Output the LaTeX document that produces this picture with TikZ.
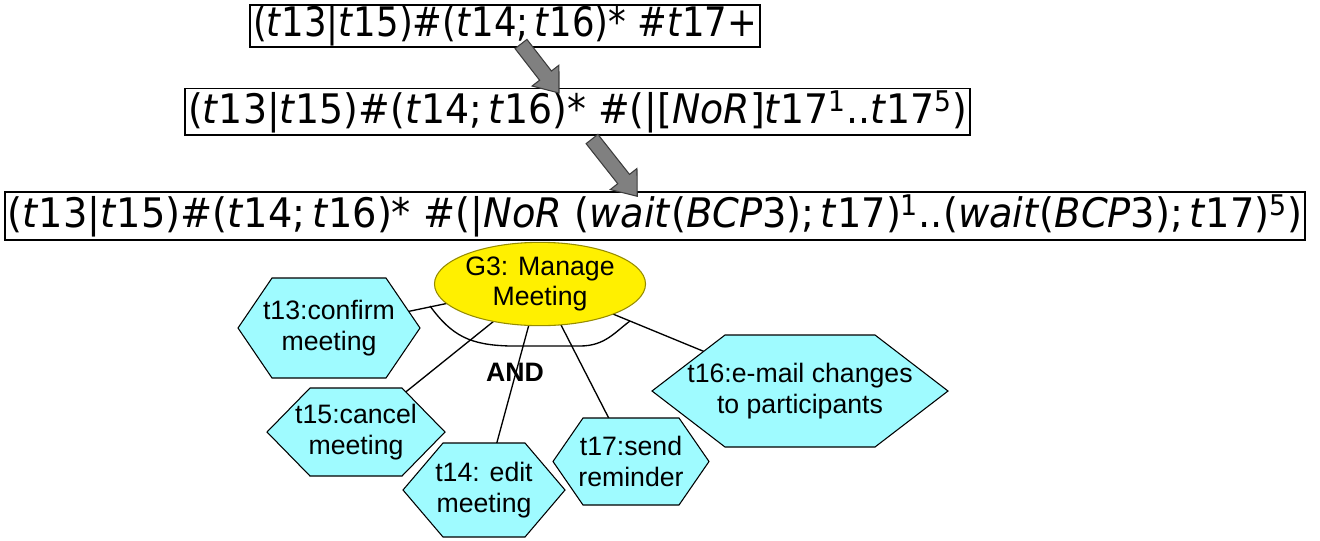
\documentclass[tikz,border=0pt]{standalone}
\usepackage{fontspec}
\usepackage{graphicx}
\usetikzlibrary{shapes.geometric}
\newfontfamily\hvfont{Liberation Sans}
\newfontfamily\djfont{DejaVu Sans}
\definecolor{taskcyan}{HTML}{9FFBFF}
\definecolor{goalyellow}{HTML}{FFF000}
\definecolor{goalrim}{HTML}{968C00}
\definecolor{arrowgray}{HTML}{808080}
\definecolor{arrowrim}{HTML}{3C3C3C}
\pgfdeclarelayer{edges}
\pgfdeclarelayer{shapes}
\pgfsetlayers{edges,shapes,main}

\newcommand\ti[1]{\textit{#1}}

% task hexagon: name, cx, cy, half width, half height, pointer depth, text
\newcommand\taskhex[7]{%
  \begin{pgfonlayer}{shapes}
    \draw[hexshape] ({#2-#4},#3) -- ({#2-#4+#6},{#3-#5}) -- ({#2+#4-#6},{#3-#5})
      -- ({#2+#4},#3) -- ({#2+#4-#6},{#3+#5}) -- ({#2-#4+#6},{#3+#5}) -- cycle;
  \end{pgfonlayer}
  \node[hextext] (#1) at (#2,#3) {#7};}

% grey block arrow: tail x, tail y, angle, length
\newcommand\blockarrow[4]{%
  \begin{scope}[shift={(#1,#2)}, rotate=#3]
    \draw[blockarrow] (0,-7.5) -- ({#4-22},-7.5) -- ({#4-22},-17) -- (#4,0)
      -- ({#4-22},17) -- ({#4-22},7.5) -- (0,7.5) -- cycle;
  \end{scope}}

\tikzset{
  formbox/.style={draw=black, line width=1pt, inner sep=0pt,
    font=\djfont\fontsize{30.5}{33}\selectfont},
  hexshape/.style={draw=black, line width=0.8pt, fill=taskcyan},
  hextext/.style={align=center, inner sep=0pt,
    font=\hvfont\fontsize{20}{23}\selectfont},
  goal/.style={ellipse, draw=goalrim, line width=0.8pt, fill=goalyellow,
    inner sep=0pt, align=center, font=\hvfont\fontsize{20}{23}\selectfont},
  link/.style={draw=black, line width=1pt},
  andlabel/.style={font=\hvfont\bfseries\fontsize{20}{23}\selectfont, inner sep=0pt},
  blockarrow/.style={draw=arrowrim, line width=0.8pt, fill=arrowgray, line join=miter},
}

\begin{document}
\begin{tikzpicture}[x=0.75pt, y=-0.75pt]
\useasboundingbox (0,0) rectangle (1320,540);

% formula boxes
\node[formbox, minimum width=382.5pt, minimum height=31.5pt] (f1) at (505,26)
  {\resizebox{378pt}{\height}{(\ti{t}13|\ti{t}15)\#(\ti{t}14;\,\ti{t}16)* \#\ti{t}17+}};
\node[formbox, minimum width=588.75pt, minimum height=35pt] (f2) at (577.5,111.5)
  {\resizebox{584pt}{\height}{(\ti{t}13|\ti{t}15)\#(\ti{t}14;\,\ti{t}16)* \#(|[\ti{NoR}]\ti{t}17\textsuperscript{1}..\ti{t}17\textsuperscript{5})}};
\node[formbox, minimum width=975pt, minimum height=36pt] (f3) at (655,216)
  {\resizebox{971pt}{\height}{(\ti{t}13|\ti{t}15)\#(\ti{t}14;\,\ti{t}16)* \#(|\ti{NoR} (\ti{wait}(\ti{BCP}3);\,\ti{t}17)\textsuperscript{1}..(\ti{wait}(\ti{BCP}3);\,\ti{t}17)\textsuperscript{5})}};

% rewriting steps
\blockarrow{521}{44}{-52.2}{62}
\blockarrow{592}{139}{-51.7}{73}

% goal
\node[goal, minimum width=154.5pt, minimum height=62.5pt] (g3) at (540,284)
  {G3: Manage\\Meeting};

% tasks
\taskhex{t13}{329}{328}{91}{50}{34}{t13:confirm\\meeting}
\taskhex{t15}{356}{432}{89}{44}{43}{t15:cancel\\meeting}
\taskhex{t14}{484}{490}{81}{47}{40}{t14: edit\\meeting}
\taskhex{t17}{631}{461.5}{78}{43.5}{30}{t17:send\\reminder}
\taskhex{t16}{800}{391}{148}{56}{73}{t16:e-mail changes\\to participants}

% decomposition links
\begin{pgfonlayer}{edges}
  \foreach \t in {t13,t15,t14,t17,t16}
    \draw[link] (g3.center) -- (\t.center);
\end{pgfonlayer}

% AND arc
\draw[link] (430,306) .. controls (452,336) and (470,345) .. (510,346)
  -- (580,346) .. controls (605,346) and (615,332) .. (630,321);
\node[andlabel] (and) at (515,372) {AND};
\end{tikzpicture}
\end{document}
